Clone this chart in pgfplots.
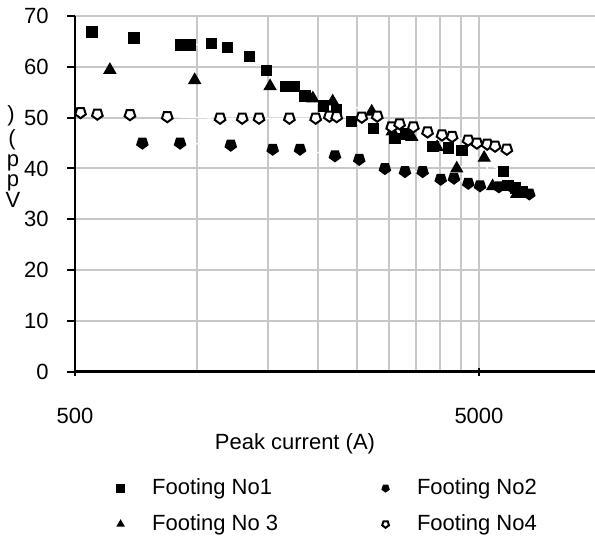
\documentclass[border=0pt]{standalone}
\usepackage{fontspec}
\setmainfont{Liberation Sans}
\usepackage{pgfplots}
\pgfplotsset{compat=1.18}

\begin{document}
\begin{tikzpicture}[font=\fontsize{11}{13}\selectfont]
\path[use as bounding box] (0,0) rectangle (297.5pt,273pt);
\begin{axis}[
  at={(37.5pt,87.15pt)}, anchor=south west,
  scale only axis, width=260pt, height=177.8pt,
  xmode=log, xmin=500, xmax=9687, ymin=0, ymax=70,
  axis x line=bottom, axis y line=left,
  axis line style={line width=1.2pt,-},
  xtick={500,5000}, xticklabels={500,5000},
  minor xtick={1000,1500,2000,2500,3000,3500,4000,4500},
  ytick={0,10,...,70},
  grid=both, grid style={black!22, line width=1pt},
  major tick length=4pt, minor tick length=0pt,
  xtick align=center, ytick align=outside,
  tick style={black, line width=1pt},
  /pgf/number format/assume math mode=true,
  xticklabel style={inner sep=0pt, yshift=-16pt},
  yticklabel style={inner sep=0pt, xshift=-9pt},
  legend columns=2, legend cell align=left,
  legend style={at={(0.080,-0.300)}, anchor=north west, draw=none, fill=none,
    inner sep=0pt, row sep=8.5pt, nodes={inner sep=0pt},
    /tikz/every odd column/.append style={column sep=14pt},
    /tikz/every even column/.append style={column sep=52pt}},
  legend image code/.code={\draw[#1, mark size=1.8pt] plot coordinates {(0pt,0pt)};},
]
% Footing No1
\addplot[draw=white, line width=0.7pt, mark=square*, mark size=2.5pt,
  mark options={solid, draw=black, fill=black}] coordinates {
(551,66.9) (700,65.7) (914,64.3) (963,64.3) (1090,64.6) (1191,63.8) (1350,62.1)
(1491,59.3) (1663,56.1) (1741,56.1) (1854,54.3) (2059,52.3) (2222,51.5) (2420,49.2)
(2740,47.9) (3097,45.9) (3300,46.8) (3850,44.3) (4197,44.0) (4540,43.6) (5741,39.4)
(5900,36.6) (6150,36.2) (6400,35.4)};
\addlegendentry{Footing No1}
% Footing No2
\addplot[draw=white, line width=0.7pt, mark=pentagon*, mark size=2.9pt,
  mark options={solid, draw=black, fill=black, rotate=180}] coordinates {
(734,45.0) (910,45.0) (1215,44.6) (1543,43.8) (1803,43.8) (2200,42.5) (2527,41.8)
(2925,40.0) (3280,39.4) (3627,39.4) (4020,37.9) (4336,38.1) (4704,37.1) (5029,36.6)
(5600,36.4) (6120,36.0) (6661,35.0)};
\addlegendentry{Footing No2}
% Footing No 3
\addplot[draw=white, line width=0.7pt, mark=triangle*, mark size=3.2pt,
  mark options={solid, draw=black, fill=black}] coordinates {
(610,59.4) (989,57.4) (1520,56.2) (1940,53.8) (2172,53.2) (2713,51.2) (3050,47.3)
(3410,46.2) (3940,44.2) (4405,40.0) (5150,42.1) (5404,36.5) (6200,35.0)};
\addlegendentry{Footing No 3}
% Footing No4
\addplot[draw=white, line width=0.7pt, mark=pentagon*, mark size=2.8pt,
  mark options={solid, draw=black, fill=white, line width=1pt, rotate=180}] coordinates {
(516,51.0) (568,50.7) (684,50.6) (846,50.2) (1143,49.9) (1297,49.9) (1427,49.9)
(1697,49.9) (1971,49.9) (2131,50.3) (2222,50.2) (2563,50.1) (2800,50.3) (3040,48.2)
(3180,48.8) (3440,48.2) (3730,47.2) (4050,46.6) (4290,46.3) (4700,45.6) (4940,45.0)
(5240,44.8) (5480,44.4) (5860,43.8)};
\addlegendentry{Footing No4}
\end{axis}
\node at (147.5pt,51pt) {Peak current (A)};
% y label: upright characters stacked, read bottom to top
\begin{scope}[every node/.style={inner sep=0pt}]
\node at (5.5pt,215pt) {)};
\node at (6pt,203pt) {(};
\node at (6.5pt,191.5pt) {p};
\node at (6.5pt,181.5pt) {p};
\node at (6.5pt,173pt) {V};
\end{scope}
\end{tikzpicture}
\end{document}
